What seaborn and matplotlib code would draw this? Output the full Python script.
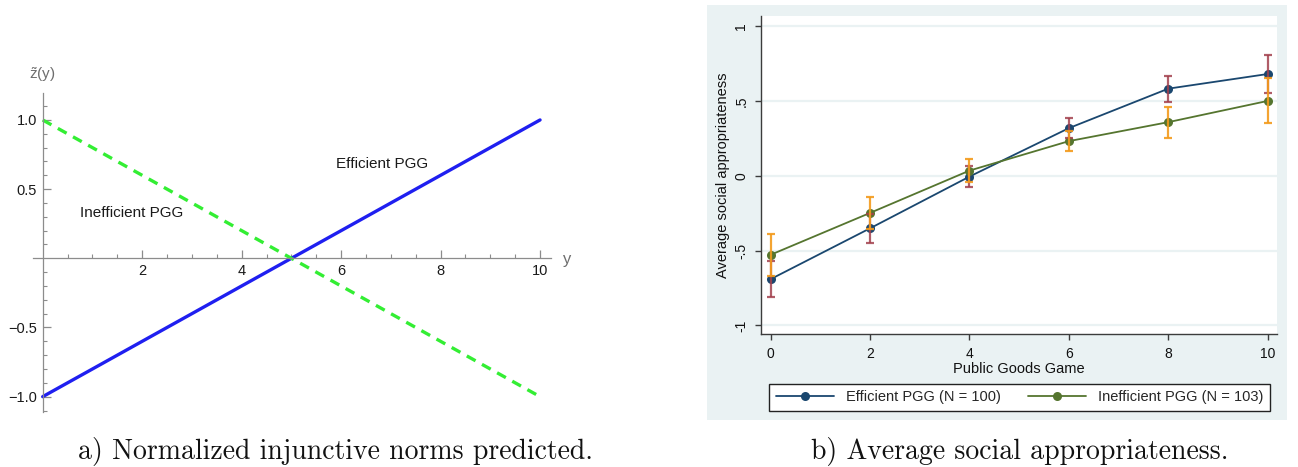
import matplotlib
matplotlib.use("Agg")
import matplotlib.pyplot as plt
from matplotlib.lines import Line2D
from matplotlib.ticker import FixedLocator
import numpy as np
import pandas as pd
import seaborn as sns

# ---- panel a: predicted normalized injunctive norms ----
norm_y = [0, 10]
norm_efficient = [-1.0, 1.0]
norm_inefficient = [1.0, -1.0]

# ---- panel b: average social appropriateness by contribution ----
pgg_x = [0, 2, 4, 6, 8, 10]
eff_mean = [-0.69, -0.35, -0.004, 0.32, 0.584, 0.682]
eff_ci = [0.12, 0.095, 0.068, 0.068, 0.087, 0.128]
ineff_mean = [-0.527, -0.247, 0.036, 0.233, 0.36, 0.502]
ineff_ci = [0.142, 0.105, 0.077, 0.065, 0.104, 0.151]
legend_labels = ["Efficient PGG (N = 100)", "Inefficient PGG (N = 103)"]

W, H = 1298, 467
sns.set_theme(style="white")
plt.rcParams["font.family"] = ["Liberation Sans", "DejaVu Sans"]

fig = plt.figure(figsize=(W / 100, H / 100), dpi=100)


def box(x0, y0, x1, y1):
    return [x0 / W, 1 - y1 / H, (x1 - x0) / W, (y1 - y0) / H]


# ================= panel a =================
axa = fig.add_axes(box(33, 92.7, 551, 412.3))
axa.set_facecolor("none")
df_a = pd.DataFrame({
    "y": norm_y * 2,
    "z": norm_efficient + norm_inefficient,
    "game": ["Efficient"] * 2 + ["Inefficient"] * 2,
})
sns.lineplot(data=df_a[df_a.game == "Efficient"], x="y", y="z", ax=axa,
             color="#1f1ff0", lw=2.4, legend=False)
sns.lineplot(data=df_a[df_a.game == "Inefficient"], x="y", y="z", ax=axa,
             color="#33ee33", lw=2.4, legend=False,
             linestyle=(0, (3.0, 2.2)))
axa.set_xlim(-0.195, 10.22)
axa.set_ylim(-1.113, 1.197)
for s in ["top", "right"]:
    axa.spines[s].set_visible(False)
axa.spines["left"].set_position(("data", 0))
axa.spines["bottom"].set_position(("data", 0))
for s in ["left", "bottom"]:
    axa.spines[s].set_color("#8c8c8c")
    axa.spines[s].set_linewidth(0.9)
axa.xaxis.set_major_locator(FixedLocator([2, 4, 6, 8, 10]))
axa.xaxis.set_minor_locator(FixedLocator([v for v in np.arange(0.5, 10.01, 0.5)
                                          if abs(v % 2) > 1e-6]))
axa.yaxis.set_major_locator(FixedLocator([-1.0, -0.5, 0.5, 1.0]))
axa.yaxis.set_minor_locator(FixedLocator([round(v, 1) for v in np.arange(-1.1, 1.11, 0.1)
                                          if abs(round(v, 1) * 2 - round(v * 2)) > 1e-6]))
axa.set_xticklabels(["2", "4", "6", "8", "10"])
axa.set_yticklabels(["\u22121.0", "\u22120.5", "0.5", "1.0"])
axa.tick_params(which="both", bottom=True, left=True)
axa.tick_params(which="major", direction="in", length=5.5, width=0.9,
                color="#8c8c8c", labelsize=10.5, labelcolor="#1a1a1a")
axa.tick_params(which="minor", direction="in", length=3.2, width=0.8,
                color="#8c8c8c")
axa.tick_params(axis="x", pad=4)
axa.tick_params(axis="y", pad=4)
axa.set_xlabel("")
axa.set_ylabel("")
axa.text(0, 1.33, r"$\tilde{\mathregular{z}}$(y)", ha="center", va="center",
         fontsize=11, color="#6e6e6e", clip_on=False)
axa.text(10.54, -0.01, "y", ha="center", va="center", fontsize=12,
         color="#6e6e6e", clip_on=False)
axa.text(6.83, 0.68, "Efficient PGG", ha="center", va="center",
         fontsize=11, color="#1a1a1a")
axa.text(1.79, 0.33, "Inefficient PGG", ha="center", va="center",
         fontsize=11, color="#1a1a1a")

# ================= panel b =================
bg = "#eaf2f3"
axbg = fig.add_axes(box(707, 5, 1287, 419.5), zorder=-5)
axbg.set_facecolor(bg)
axbg.set_xticks([])
axbg.set_yticks([])
for s in axbg.spines.values():
    s.set_visible(False)

axb = fig.add_axes(box(761, 16, 1277, 334))
axb.set_facecolor("white")
navy, olive = "#1a476f", "#55752f"
maroon, orange = "#a3404d", "#f39a1c"

df_b = pd.DataFrame({
    "x": pgg_x * 2,
    "m": eff_mean + ineff_mean,
    "g": [legend_labels[0]] * 6 + [legend_labels[1]] * 6,
})
for yv in [-1, -0.5, 0, 0.5, 1]:
    axb.axhline(yv, color=bg, lw=1.6, zorder=0.5)
sns.lineplot(data=df_b, x="x", y="m", hue="g", palette=[navy, olive],
             marker="o", markersize=6.5, markeredgewidth=0, lw=1.3,
             ax=axb, legend=False, zorder=2)
axb.errorbar(pgg_x, eff_mean, yerr=eff_ci, fmt="none", ecolor=maroon,
             elinewidth=1.6, capsize=3.2, capthick=1.6, alpha=0.85, zorder=3)
axb.errorbar(pgg_x, ineff_mean, yerr=ineff_ci, fmt="none", ecolor=orange,
             elinewidth=1.6, capsize=3.2, capthick=1.6, alpha=0.9, zorder=3)
axb.set_xlim(-0.195, 10.187)
axb.set_ylim(-1.057, 1.07)
for s in ["top", "right"]:
    axb.spines[s].set_visible(False)
for s in ["left", "bottom"]:
    axb.spines[s].set_color("#3c3c3c")
    axb.spines[s].set_linewidth(1.0)
axb.set_xticks(pgg_x)
axb.set_yticks([-1, -0.5, 0, 0.5, 1])
axb.set_yticklabels(["-1", "-.5", "0", ".5", "1"], rotation=90, va="center")
axb.tick_params(direction="out", length=4, width=1.0, color="#3c3c3c",
                labelsize=10, labelcolor="#111111", left=True, bottom=True)
axb.tick_params(axis="x", pad=5)
axb.tick_params(axis="y", pad=5)
axb.set_xlabel("Public Goods Game", fontsize=10.5, color="#111111", labelpad=1)
axb.set_ylabel("Average social appropriateness", fontsize=10.5,
               color="#111111", labelpad=3)

handles = [Line2D([], [], color=navy, lw=1.3, marker="o", markersize=6.5,
                  markeredgewidth=0),
           Line2D([], [], color=olive, lw=1.3, marker="o", markersize=6.5,
                  markeredgewidth=0)]
x0, x1, y0, y1 = 769, 1270, 383.3, 411
leg = fig.legend(handles, legend_labels, loc="lower left",
                 bbox_to_anchor=(x0 / W, 1 - y1 / H, (x1 - x0) / W, (y1 - y0) / H),
                 bbox_transform=fig.transFigure, ncol=2, mode="expand",
                 fontsize=10.5, handlelength=4.0, handletextpad=0.8,
                 borderaxespad=0, borderpad=0.45, fancybox=False,
                 frameon=True, columnspacing=1.0)
leg.get_frame().set_edgecolor("#222222")
leg.get_frame().set_linewidth(1.0)
leg.get_frame().set_facecolor("white")
leg.get_frame().set_alpha(1)

# ---- captions ----
cap_kw = dict(fontsize=20, family="cmr10", color="#111111", ha="center",
              va="center")
fig.text(335 / W, 1 - 451 / H, "a) Normalized injunctive norms predicted.", **cap_kw)
fig.text(1020 / W, 1 - 451 / H, "b) Average social appropriateness.", **cap_kw)

fig.savefig("out.png", dpi=100)
